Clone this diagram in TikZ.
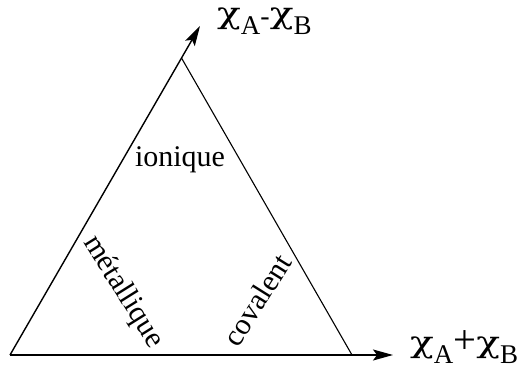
\documentclass[tikz,border=0pt]{standalone}
\usepackage{fontspec}
\setmainfont{Liberation Serif}
\newfontfamily\chifont{DejaVu Serif}
\usetikzlibrary{arrows.meta}
\newcommand{\bigchi}{\scalebox{1.4}[1.05]{\chifont χ}}
\begin{document}
\begin{tikzpicture}[x=1pt,y=-1pt,
  edge/.style={line width=1.1pt,line join=round},
  axis/.style={line width=1.4pt,-{Stealth[length=20pt,width=11pt,inset=4pt]}},
  lbl/.style={inner sep=0pt,font=\fontsize{30}{32}\selectfont},
  axlbl/.style={inner sep=0pt,anchor=base west,font=\fontsize{28}{32}\selectfont}]
\useasboundingbox (0,0) rectangle (518,371);
\coordinate (A) at (10,355);
\coordinate (T) at (181.5,58);
\coordinate (B) at (352,355);
\coordinate (Y) at (200,26);
\coordinate (X) at (393,355);
\draw[axis] (A) -- (Y);
\draw[edge] (T) -- (B);
\draw[axis] (A) -- (X);
\node[lbl,anchor=base] (ion) at (180,167) {ionique};
\node[lbl,rotate=-58] (met) at (123,292) {métallique};
\node[lbl,rotate=58] (cov) at (257,300) {covalent};
\node[axlbl] (ly) at (217,24) {\bigchi\raisebox{-11pt}{\fontsize{27}{28}\selectfont A}\raisebox{-2pt}{-}\bigchi\raisebox{-11pt}{\fontsize{27}{28}\selectfont B}};
\node[axlbl] (lx) at (410,352) {\bigchi\raisebox{-11pt}{\fontsize{27}{28}\selectfont A}\raisebox{-1pt}{\scalebox{1.45}{+}}\bigchi\raisebox{-11pt}{\fontsize{27}{28}\selectfont B}};
\end{tikzpicture}
\end{document}
